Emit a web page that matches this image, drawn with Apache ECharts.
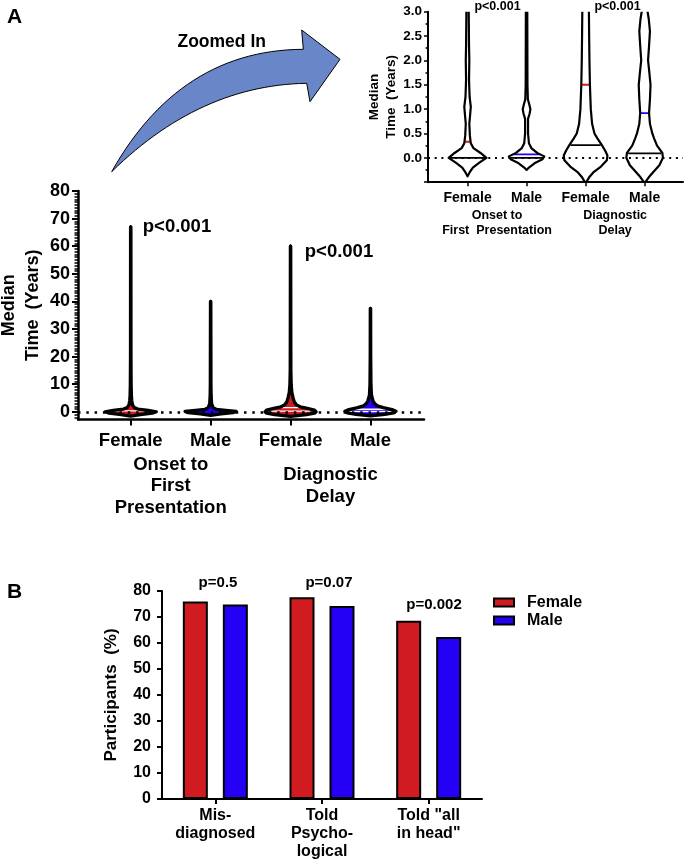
<!DOCTYPE html>
<html><head><meta charset="utf-8">
<script src="https://cdn.jsdelivr.net/npm/echarts@6/dist/echarts.min.js"></script>
<style>html,body{margin:0;padding:0;background:#fff}#c{width:688px;height:863px}</style>
</head><body><div id="c"></div>
<script>
// ---------- DATA ----------
const sexLabels = ['Female', 'Male', 'Female', 'Male'];
const groupLabelsMain = ['Onset to\nFirst\nPresentation', 'Diagnostic\nDelay'];
const groupLabelsInset = ['Onset to\nFirst  Presentation', 'Diagnostic\nDelay'];
// violin density profiles over the full range (panel A): [years, half-width in category units]
const femaleOnsetMain = [[-1.6,0],[-1.0,0.12],[-0.5,0.27],[0,0.32],[0.5,0.22],[1.0,0.09],[1.5,0.045],[2.5,0.022],[4,0.013],[6,0.008],[10,0.005],[20,0.003],[67,0.002]];
const maleOnsetMain = [[-1.3,0],[-0.8,0.13],[-0.3,0.28],[0.1,0.32],[0.5,0.19],[0.9,0.07],[1.5,0.03],[3,0.012],[6,0.006],[10,0.004],[40,0.002]];
const femaleDelayMain = [[-1.7,0],[-1.0,0.2],[-0.5,0.3],[0,0.32],[0.6,0.3],[1.2,0.21],[1.8,0.12],[2.5,0.075],[3.5,0.048],[5,0.032],[7,0.016],[10,0.008],[15,0.004],[30,0.003],[60,0.002]];
const maleDelayMain = [[-1.5,0],[-0.9,0.18],[-0.4,0.29],[0.2,0.32],[0.8,0.27],[1.5,0.16],[2.2,0.085],[3,0.052],[4,0.032],[6,0.013],[10,0.006],[20,0.003],[37.5,0.002]];
// violin density profiles for the zoomed-in inset (0-3 years)
const femaleOnsetZoom = [[-0.38,0],[-0.3,0.035],[-0.2,0.09],[-0.1,0.2],[0,0.32],[0.1,0.22],[0.2,0.1],[0.3,0.055],[0.45,0.04],[0.7,0.03],[0.9,0.045],[1.05,0.055],[1.25,0.035],[1.6,0.025],[2.0,0.03],[2.3,0.025],[3,0.02],[3.5,0.018]];
const maleOnsetZoom = [[-0.25,0],[-0.2,0.04],[-0.1,0.15],[-0.03,0.27],[0.03,0.3],[0.1,0.18],[0.2,0.08],[0.3,0.04],[0.5,0.025],[0.8,0.025],[0.9,0.05],[1.0,0.065],[1.1,0.045],[1.2,0.022],[1.5,0.015],[3,0.012],[3.5,0.011]];
const femaleDelayZoom = [[-0.52,0],[-0.4,0.06],[-0.3,0.13],[-0.18,0.26],[-0.05,0.36],[0.05,0.37],[0.15,0.33],[0.27,0.27],[0.4,0.2],[0.5,0.15],[0.7,0.11],[1.0,0.088],[1.5,0.073],[2.0,0.065],[2.5,0.06],[3,0.056],[3.5,0.05]];
const maleDelayZoom = [[-0.52,0],[-0.4,0.07],[-0.3,0.14],[-0.15,0.25],[0,0.31],[0.1,0.3],[0.25,0.21],[0.4,0.16],[0.5,0.13],[0.7,0.09],[0.92,0.075],[1.2,0.09],[1.5,0.1],[1.75,0.08],[2.0,0.058],[2.3,0.075],[2.6,0.09],[2.85,0.07],[3.0,0.05],[3.5,0.04]];
const mainProfiles = [femaleOnsetMain, maleOnsetMain, femaleDelayMain, maleDelayMain];
const zoomProfiles = [femaleOnsetZoom, maleOnsetZoom, femaleDelayZoom, maleDelayZoom];
const medianLine = [0.0, 0.0, 0.26, 0.09];
const upperLine = [0.33, 0.07, 1.5, 0.92];
const mainYTicks = [0, 10, 20, 30, 40, 50, 60, 70, 80];
const pValuesA = ['p<0.001', 'p<0.001'];

const barCategories = ['Mis-\ndiagnosed', 'Told\nPsycho-\nlogical', 'Told "all\nin head"'];
const femalePct = [76.0, 77.6, 68.6];
const malePct = [74.8, 74.2, 62.3];
const pValuesB = ['p=0.5', 'p=0.07', 'p=0.002'];

// ---------- STYLE ----------
const FONT = '"Liberation Sans", Arial, Helvetica, sans-serif';
const RED = '#D01C20', BLUE = '#2400F5';
const sexColors = [RED, BLUE, RED, BLUE];
const bold = {fontFamily: FONT, fontWeight: 'bold', color: '#000'};

function interpW(prof, y) {
  if (y <= prof[0][0]) return prof[0][1];
  for (let k = 1; k < prof.length; k++) {
    if (y <= prof[k][0]) {
      const a = prof[k-1], b = prof[k];
      const t = (y - a[0]) / (b[0] - a[0]);
      return a[1] + t * (b[1] - a[1]);
    }
  }
  return prof[prof.length-1][1];
}
function clipProfile(prof, lo, hi) {
  const out = [];
  if (prof[0][0] < lo) out.push([lo, interpW(prof, lo)]);
  prof.forEach(p => { if (p[0] >= lo && p[0] <= hi) out.push(p); });
  if (prof[prof.length-1][0] > hi) out.push([hi, interpW(prof, hi)]);
  return out;
}
function violinRenderer(cfg) {
  return function (params, api) {
    const i = api.value(0);
    const full = cfg.profiles[i];
    const prof = clipProfile(full, cfg.lo, cfg.hi);
    const L = prof.map(p => api.coord([i - p[1], p[0]]));
    const R = prof.map(p => api.coord([i + p[1], p[0]]));
    const fillPts = L.concat(R.slice().reverse());
    const outline = L.slice().reverse().concat(R);
    const children = [{type: 'polygon', shape: {points: fillPts}, style: {fill: cfg.fill(i), stroke: null}}];
    const lines = [[medianLine[i], cfg.medColor(i)], [upperLine[i], cfg.upColor(i)]];
    lines.forEach(([v, col]) => {
      if (cfg.minLine !== undefined && v < cfg.minLine) return;
      const w = interpW(full, v) * cfg.lineFrac;
      const a = api.coord([i - w, v]), b = api.coord([i + w, v]);
      children.push({type: 'line', shape: {x1: a[0], y1: a[1], x2: b[0], y2: b[1]}, style: {stroke: col, lineWidth: cfg.lineW}});
    });
    children.push({type: 'polyline', shape: {points: outline}, style: {stroke: '#000', lineWidth: cfg.strokeW, fill: null, lineJoin: 'round', lineCap: 'round'}});
    return {type: 'group', children};
  };
}
const mainMinor = [];
for (let v = -2; v <= 80; v++) if (v % 10 !== 0) mainMinor.push(v);

// decorative curved "Zoomed In" arrow outline (pixel geometry, not data)
function quad(p0, c, p2, n) {
  const pts = [];
  for (let k = 0; k <= n; k++) {
    const t = k / n, u = 1 - t;
    pts.push([u*u*p0[0] + 2*u*t*c[0] + t*t*p2[0], u*u*p0[1] + 2*u*t*c[1] + t*t*p2[1]]);
  }
  return pts;
}
const arrowPts = quad([111.7, 171.7], [180, 50], [303.3, 49.3], 30)
  .concat([[301.7, 30], [340, 59.3], [310, 101.7]])
  .concat(quad([306.7, 83.3], [200, 85], [111.7, 171.7], 30));

const chart = echarts.init(document.getElementById('c'), null, {renderer: 'canvas'});
chart.setOption({
  animation: false,
  backgroundColor: '#fff',
  textStyle: {fontFamily: FONT},
  grid: [
    {left: 78, top: 191, width: 346, height: 228.5, outerBoundsMode: 'none', containLabel: false},
    {left: 428, top: 11.7, width: 255, height: 170.5, outerBoundsMode: 'none', containLabel: false},
    {left: 162, top: 591, width: 320, height: 208, outerBoundsMode: 'none', containLabel: false}
  ],
  legend: {
    data: ['Female', 'Male'], orient: 'vertical', left: 493, top: 593.5, padding: 0,
    itemWidth: 20, itemHeight: 8, itemGap: 0, icon: 'rect',
    textStyle: Object.assign({fontSize: 16, lineHeight: 18, padding: [0, 0, 0, 8]}, bold)
  },
  xAxis: [
    {gridIndex: 0, type: 'value', position: 'bottom', min: -0.66, max: 3.67,
     axisLine: {show: true, onZero: false, lineStyle: {color: '#000', width: 2.5}},
     axisTick: {show: true, customValues: [0, 1, 2, 3], length: 6, lineStyle: {color: '#000', width: 2}},
     axisLabel: Object.assign({customValues: [0, 1, 2, 3], formatter: v => sexLabels[Math.round(v)], fontSize: 18.5, margin: 12}, bold),
     splitLine: {show: false}},
    {gridIndex: 0, type: 'value', position: 'bottom', min: -0.66, max: 3.67,
     axisLine: {show: false, onZero: false}, axisTick: {show: false},
     axisLabel: Object.assign({customValues: [0.5, 2.5], formatter: v => groupLabelsMain[v < 1.5 ? 0 : 1], fontSize: 18.5, lineHeight: 21.5, verticalAlign: 'middle', margin: 66.5}, bold),
     splitLine: {show: false}},
    {gridIndex: 1, type: 'value', position: 'bottom', min: -0.67, max: 3.65,
     axisLine: {show: true, onZero: false, lineStyle: {color: '#000', width: 2}},
     axisTick: {show: true, customValues: [0, 1, 2, 3], length: 4, lineStyle: {color: '#000', width: 1.5}},
     axisLabel: Object.assign({customValues: [0, 1, 2, 3], formatter: v => sexLabels[Math.round(v)], fontSize: 14, margin: 9}, bold),
     splitLine: {show: false}},
    {gridIndex: 1, type: 'value', position: 'bottom', min: -0.67, max: 3.65,
     axisLine: {show: false, onZero: false}, axisTick: {show: false},
     axisLabel: Object.assign({customValues: [0.5, 2.5], formatter: v => groupLabelsInset[v < 1.5 ? 0 : 1], fontSize: 12.5, lineHeight: 14.5, verticalAlign: 'middle', margin: 41}, bold),
     splitLine: {show: false}},
    {gridIndex: 2, type: 'category', data: barCategories, position: 'bottom',
     axisLine: {show: true, onZero: false, lineStyle: {color: '#000', width: 2}},
     axisTick: {show: true, alignWithLabel: true, length: 5, lineStyle: {color: '#000', width: 2}},
     axisLabel: Object.assign({interval: 0, fontSize: 16, lineHeight: 18, margin: 8}, bold)}
  ],
  yAxis: [
    {gridIndex: 0, type: 'value', position: 'left', min: -2.8, max: 80,
     axisLine: {show: true, onZero: false, lineStyle: {color: '#000', width: 2.5}},
     axisTick: {show: true, customValues: mainYTicks, length: 6, lineStyle: {color: '#000', width: 2}},
     axisLabel: Object.assign({customValues: mainYTicks, fontSize: 18, margin: 8}, bold),
     splitLine: {show: false},
     name: 'Median\nTime  (Years)', nameLocation: 'middle', nameRotate: 90, nameGap: 33, nameMoveOverlap: false,
     nameTextStyle: Object.assign({fontSize: 18, lineHeight: 24}, bold)},
    {gridIndex: 0, type: 'value', position: 'left', min: -2.8, max: 80,
     axisLine: {show: false, onZero: false},
     axisTick: {show: true, customValues: mainMinor, length: 3.5, lineStyle: {color: '#000', width: 1.5}},
     axisLabel: {show: false}, splitLine: {show: false}},
    {gridIndex: 1, type: 'value', position: 'left', min: -0.5, max: 3, interval: 0.5,
     axisLine: {show: true, onZero: false, lineStyle: {color: '#000', width: 2}},
     axisTick: {show: true, length: 4, lineStyle: {color: '#000', width: 1.5}},
     minorTick: {show: true, splitNumber: 2, length: 2.5, lineStyle: {color: '#000', width: 1.5}},
     axisLabel: Object.assign({formatter: v => v < 0 ? '' : v.toFixed(1), fontSize: 13.5, margin: 6}, bold),
     splitLine: {show: false}, minorSplitLine: {show: false},
     name: 'Median\nTime  (Years)', nameLocation: 'middle', nameRotate: 90, nameGap: 28,
     nameTextStyle: Object.assign({fontSize: 13.5, lineHeight: 17}, bold)},
    {gridIndex: 2, type: 'value', position: 'left', min: 0, max: 80, interval: 10,
     axisLine: {show: true, onZero: false, lineStyle: {color: '#000', width: 2}},
     axisTick: {show: true, length: 5, lineStyle: {color: '#000', width: 2}},
     axisLabel: Object.assign({fontSize: 16, margin: 11}, bold),
     splitLine: {show: false},
     name: 'Participants  (%)', nameLocation: 'middle', nameRotate: 90, nameGap: 42,
     nameTextStyle: Object.assign({fontSize: 17}, bold)}
  ],
  series: [
    {type: 'line', xAxisIndex: 0, yAxisIndex: 0, data: [], z: 1, silent: true,
     markLine: {silent: true, symbol: 'none', label: {show: false},
       lineStyle: {color: '#000', type: [2.5, 5.8], width: 2.5}, data: [{yAxis: 0}]}},
    {type: 'custom', xAxisIndex: 0, yAxisIndex: 0, z: 3, clip: true,
     data: sexLabels.map((s, i) => [i]),
     renderItem: violinRenderer({profiles: mainProfiles, lo: -2.8, hi: 80, fill: i => sexColors[i], medColor: () => '#fff', upColor: () => '#fff',
       lineFrac: 0.85, lineW: 1.3, strokeW: 3.3, minLine: 0.08})},
    {type: 'line', xAxisIndex: 2, yAxisIndex: 2, data: [], z: 1, silent: true,
     markLine: {silent: true, symbol: 'none', label: {show: false},
       lineStyle: {color: '#000', type: [2, 4.7], width: 2}, data: [{yAxis: 0}]}},
    {type: 'custom', xAxisIndex: 2, yAxisIndex: 2, z: 3, clip: true,
     data: sexLabels.map((s, i) => [i]),
     renderItem: violinRenderer({profiles: zoomProfiles, lo: -0.5, hi: 3, fill: () => '#fff', medColor: () => '#000', upColor: i => sexColors[i],
       lineFrac: 0.93, lineW: 1.8, strokeW: 2.2})},
    {name: 'Female', type: 'bar', xAxisIndex: 4, yAxisIndex: 3, data: femalePct, barWidth: 25, barGap: '60%',
     itemStyle: {color: RED, borderColor: '#000', borderWidth: 2}},
    {name: 'Male', type: 'bar', xAxisIndex: 4, yAxisIndex: 3, data: malePct, barWidth: 25, barGap: '60%',
     itemStyle: {color: BLUE, borderColor: '#000', borderWidth: 2}}
  ],
  graphic: [
    {type: 'text', left: 7, top: 7, style: {text: 'A', fontSize: 21, fill: '#000', fontFamily: FONT, fontWeight: 'bold'}},
    {type: 'text', left: 7, top: 582, style: {text: 'B', fontSize: 21, fill: '#000', fontFamily: FONT, fontWeight: 'bold'}},
    {type: 'polygon', shape: {points: arrowPts}, style: {fill: '#6886C8', stroke: '#000', lineWidth: 1}},
    {type: 'text', x: 221.7, y: 41.7, style: {text: 'Zoomed In', fontSize: 17.5, fill: '#000', fontFamily: FONT, fontWeight: 'bold', align: 'center', verticalAlign: 'middle'}},
    {type: 'text', x: 177, y: 226.7, style: {text: pValuesA[0], fontSize: 18.5, fill: '#000', fontFamily: FONT, fontWeight: 'bold', align: 'center', verticalAlign: 'middle'}},
    {type: 'text', x: 339, y: 251.7, style: {text: pValuesA[1], fontSize: 18.5, fill: '#000', fontFamily: FONT, fontWeight: 'bold', align: 'center', verticalAlign: 'middle'}},
    {type: 'text', x: 497.5, y: 7, style: {text: pValuesA[0], fontSize: 12.5, fill: '#000', fontFamily: FONT, fontWeight: 'bold', align: 'center', verticalAlign: 'middle'}},
    {type: 'text', x: 617.5, y: 7, style: {text: pValuesA[1], fontSize: 12.5, fill: '#000', fontFamily: FONT, fontWeight: 'bold', align: 'center', verticalAlign: 'middle'}},
    {type: 'text', x: 218, y: 582.7, style: {text: pValuesB[0], fontSize: 15, fill: '#000', fontFamily: FONT, fontWeight: 'bold', align: 'center', verticalAlign: 'middle'}},
    {type: 'text', x: 329, y: 582.7, style: {text: pValuesB[1], fontSize: 15, fill: '#000', fontFamily: FONT, fontWeight: 'bold', align: 'center', verticalAlign: 'middle'}},
    {type: 'text', x: 434, y: 605, style: {text: pValuesB[2], fontSize: 15, fill: '#000', fontFamily: FONT, fontWeight: 'bold', align: 'center', verticalAlign: 'middle'}}
  ]
});
</script>
</body></html>
